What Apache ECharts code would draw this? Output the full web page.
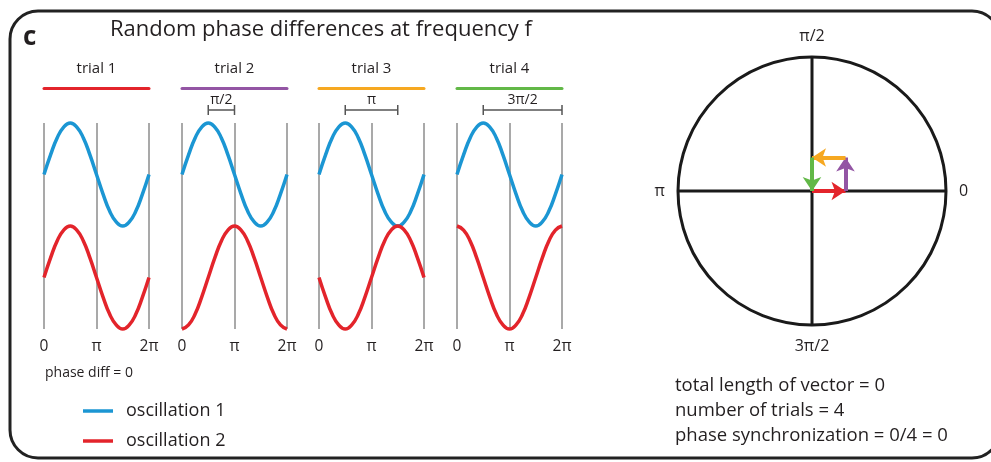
<!DOCTYPE html>
<html>
<head>
<meta charset="utf-8">
<script src="https://cdn.jsdelivr.net/npm/echarts@6/dist/echarts.min.js"></script>
<style>
  html, body { margin: 0; padding: 0; background: #ffffff; }
  #chart { width: 991px; height: 462px; }
</style>
</head>
<body>
<div id="chart"></div>
<script>
// Sample positions along one period, in units of π
const samplesX = [0, 0.125, 0.25, 0.375, 0.5, 0.625, 0.75, 0.875, 1, 1.125, 1.25, 1.375, 1.5, 1.625, 1.75, 1.875, 2];

// Oscillation 1 is the same in every trial
const oscillation1 = [0, 0.38, 0.71, 0.92, 1, 0.92, 0.71, 0.38, 0, -0.38, -0.71, -0.92, -1, -0.92, -0.71, -0.38, 0];

// Oscillation 2, one curve per trial
const oscillation2Trial1 = [0, 0.38, 0.71, 0.92, 1, 0.92, 0.71, 0.38, 0, -0.38, -0.71, -0.92, -1, -0.92, -0.71, -0.38, 0];
const oscillation2Trial2 = [-1, -0.92, -0.71, -0.38, 0, 0.38, 0.71, 0.92, 1, 0.92, 0.71, 0.38, 0, -0.38, -0.71, -0.92, -1];
const oscillation2Trial3 = [0, -0.38, -0.71, -0.92, -1, -0.92, -0.71, -0.38, 0, 0.38, 0.71, 0.92, 1, 0.92, 0.71, 0.38, 0];
const oscillation2Trial4 = [1, 0.92, 0.71, 0.38, 0, -0.38, -0.71, -0.92, -1, -0.92, -0.71, -0.38, 0, 0.38, 0.71, 0.92, 1];
const oscillation2 = [oscillation2Trial1, oscillation2Trial2, oscillation2Trial3, oscillation2Trial4];

const trialNames = ['trial 1', 'trial 2', 'trial 3', 'trial 4'];
const xTickLabels = ['0', 'π', '2π'];

// Phase-difference brackets (in units of π); trial 1 has none
const bracketStart = [null, 0.5, 0.5, 0.5];
const bracketEnd = [null, 1, 1.5, 2];
const phaseDiffLabels = ['', 'π/2', 'π', '3π/2'];

// Phase circle
const circleTickLabels = ['0', 'π/2', 'π', '3π/2'];
// One unit vector per trial, chained tip to tail
const vectorSegments = [
  [[0, 0], [1, 0]],
  [[1, 0], [1, 1]],
  [[1, 1], [0, 1]],
  [[0, 1], [0, 0]]
];

const summaryLines = ['total length of vector = 0', 'number of trials = 4', 'phase synchronization = 0/4 = 0'];

// ---- styling ----
const FONT = 'Open Sans';
const TEXT = '#231f20';
const BLUE = '#1b96d3';
const RED = '#e3242b';
const trialColors = ['#e3242b', '#9355a4', '#f6a821', '#62b847'];
const panelLefts = [44, 182, 319, 457];
const panelWidth = 105;
const panelTop = 123;
const panelHeight = 206;
const circleCenter = [812, 191];
const circleRadius = 134;

const grid = [];
const xAxis = [];
const yAxis = [];
const series = [];

trialNames.forEach((name, i) => {
  grid.push({ left: panelLefts[i], top: panelTop, width: panelWidth, height: panelHeight });
  // bottom axis: 0, π, 2π with vertical guide lines
  xAxis.push({
    type: 'value', gridIndex: i, min: 0, max: 2, interval: 1, position: 'bottom',
    axisLine: { show: false, onZero: false }, axisTick: { show: false },
    axisLabel: {
      formatter: v => xTickLabels[Math.round(v)],
      fontFamily: FONT, fontSize: 15.5, color: TEXT, margin: 10
    },
    splitLine: { show: true, lineStyle: { color: '#8d8d8d', width: 1.5 } }
  });
  // top axis: coloured trial bar with its name
  xAxis.push({
    type: 'value', gridIndex: i, min: 0, max: 2, position: 'top', offset: 35,
    name: name, nameLocation: 'middle', nameGap: 12,
    nameTextStyle: { fontFamily: FONT, fontSize: 15, color: TEXT },
    axisLine: { show: true, onZero: false, lineStyle: { color: trialColors[i], width: 3 } },
    axisTick: { show: false }, axisLabel: { show: false }, splitLine: { show: false }
  });
  // upper half holds oscillation 1, lower half oscillation 2
  yAxis.push({ type: 'value', gridIndex: i, min: -3, max: 1, show: false });
  yAxis.push({ type: 'value', gridIndex: i, min: -1, max: 3, show: false });

  series.push({
    name: 'oscillation 1', type: 'line', xAxisIndex: 2 * i, yAxisIndex: 2 * i,
    data: samplesX.map((x, k) => [x, oscillation1[k]]),
    smooth: true, showSymbol: false, symbol: 'none', clip: false,
    itemStyle: { color: BLUE },
    lineStyle: { color: BLUE, width: 3.5 },
    z: 3
  });
  series.push({
    name: 'oscillation 2', type: 'line', xAxisIndex: 2 * i, yAxisIndex: 2 * i + 1,
    data: samplesX.map((x, k) => [x, oscillation2[i][k]]),
    smooth: true, showSymbol: false, symbol: 'none', clip: false,
    itemStyle: { color: RED },
    lineStyle: { color: RED, width: 3.5 },
    z: 3
  });

  if (bracketStart[i] !== null) {
    series.push({
      type: 'custom', xAxisIndex: 2 * i, yAxisIndex: 2 * i, clip: false, silent: true,
      data: [[bracketStart[i], bracketEnd[i]]],
      encode: { x: [0, 1] },
      renderItem: (params, api) => {
        const x1 = api.coord([api.value(0), 0])[0];
        const x2 = api.coord([api.value(1), 0])[0];
        const y = params.coordSys.y - 13;
        const st = { stroke: '#555555', lineWidth: 1.5 };
        return {
          type: 'group',
          children: [
            { type: 'line', shape: { x1: x1, y1: y, x2: x2, y2: y }, style: st },
            { type: 'line', shape: { x1: x1, y1: y - 5, x2: x1, y2: y + 5 }, style: st },
            { type: 'line', shape: { x1: x2, y1: y - 5, x2: x2, y2: y + 5 }, style: st },
            {
              type: 'text',
              style: {
                text: phaseDiffLabels[i], x: (x1 + x2) / 2, y: y - 3,
                align: 'center', verticalAlign: 'bottom',
                fontFamily: FONT, fontSize: 14, fill: TEXT
              }
            }
          ]
        };
      }
    });
  }
});

// Cartesian frame over the phase circle for the trial vectors
const vecGrid = grid.length;
grid.push({
  left: circleCenter[0] - circleRadius, top: circleCenter[1] - circleRadius,
  width: 2 * circleRadius, height: 2 * circleRadius
});
xAxis.push({ type: 'value', gridIndex: vecGrid, min: -4, max: 4, show: false });
yAxis.push({ type: 'value', gridIndex: vecGrid, min: -4, max: 4, show: false });

series.push({
  type: 'lines', coordinateSystem: 'cartesian2d',
  xAxisIndex: xAxis.length - 1, yAxisIndex: yAxis.length - 1,
  symbol: ['none', 'arrow'], symbolSize: 14,
  lineStyle: { width: 4, opacity: 1 },
  data: vectorSegments.map((c, i) => ({ coords: c, lineStyle: { color: trialColors[i], width: 4, opacity: 1 } })),
  z: 5
});

const option = {
  backgroundColor: '#ffffff',
  animation: false,
  textStyle: { fontFamily: FONT },
  title: [
    { text: 'c', left: 23, top: 25, padding: 0,
      textStyle: { fontFamily: FONT, fontSize: 26, fontWeight: 'bold', color: TEXT } },
    { text: 'Random phase differences at frequency f', left: 110, top: 19, padding: 0,
      textStyle: { fontFamily: FONT, fontSize: 22, fontWeight: 'normal', color: TEXT } },
    { text: 'phase diff = 0', left: 45, top: 366, padding: 0,
      textStyle: { fontFamily: FONT, fontSize: 14, fontWeight: 'normal', color: TEXT } },
    { text: summaryLines.join('\n'), left: 675, top: 373, padding: 0,
      textStyle: { fontFamily: FONT, fontSize: 18.5, lineHeight: 25, fontWeight: 'normal', color: TEXT } }
  ],
  legend: {
    data: ['oscillation 1', 'oscillation 2'],
    orient: 'vertical', left: 83, top: 402, padding: 0,
    icon: 'rect', itemWidth: 30, itemHeight: 3.5, itemGap: 12,
    selectedMode: false,
    textStyle: { fontFamily: FONT, fontSize: 18, color: TEXT, padding: [0, 0, 0, 8] }
  },
  polar: { center: circleCenter, radius: circleRadius },
  angleAxis: {
    type: 'value', min: 0, max: 360, interval: 90, startAngle: 0, clockwise: false,
    axisLine: { show: true, lineStyle: { color: '#1a1a1a', width: 3 } },
    axisTick: { show: false },
    axisLabel: {
      formatter: v => (v < 360 ? circleTickLabels[Math.round(v / 90)] : ''),
      fontFamily: FONT, fontSize: 16, color: TEXT, margin: 13
    },
    splitLine: { show: true, lineStyle: { color: '#1a1a1a', width: 3 } }
  },
  radiusAxis: {
    type: 'value', min: 0, max: 4,
    axisLine: { show: false }, axisTick: { show: false },
    axisLabel: { show: false }, splitLine: { show: false }
  },
  grid: grid,
  xAxis: xAxis,
  yAxis: yAxis,
  series: series,
  graphic: [
    {
      type: 'rect', silent: true, z: -1,
      shape: { x: 10, y: 11, width: 990, height: 447, r: 28 },
      style: { fill: 'none', stroke: '#222222', lineWidth: 3 }
    }
  ]
};

const chart = echarts.init(document.getElementById('chart'), null, { renderer: 'canvas' });
chart.setOption(option);
</script>
</body>
</html>
